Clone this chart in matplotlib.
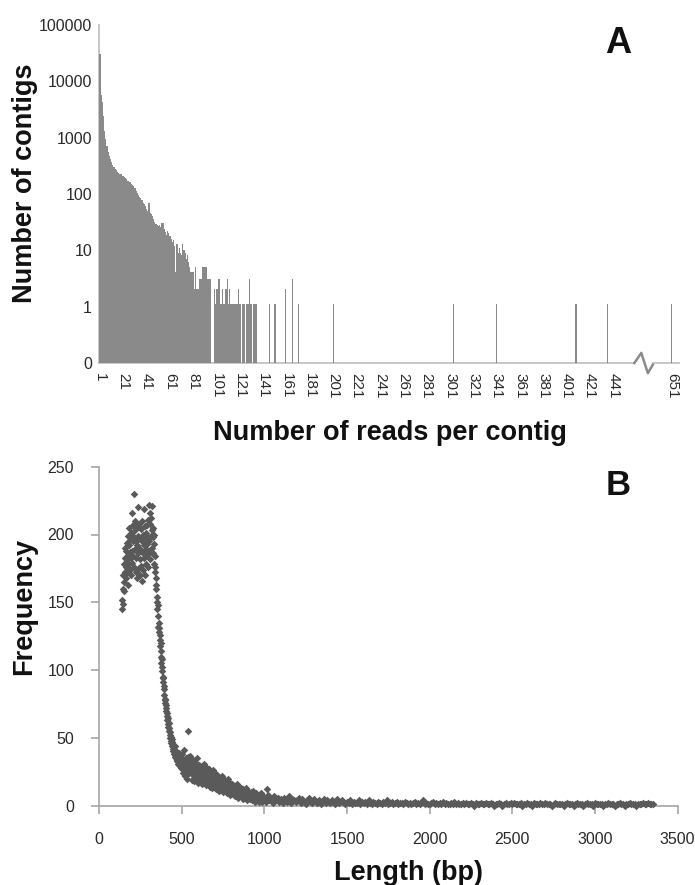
import numpy as np
import matplotlib
matplotlib.use("Agg")
import matplotlib.pyplot as plt
from matplotlib.ticker import FixedLocator, FixedFormatter
import matplotlib.transforms as mtransforms

plt.rcParams['font.family'] = ['Liberation Sans', 'DejaVu Sans']

# ---------------- Panel A data ----------------
reads_main = list(range(1, 136))
contigs_main = [
    30000, 5800, 4300, 2400, 1300, 950, 700, 560, 480, 420,
    370, 330, 300, 280, 265, 250, 240, 230, 222, 212,
    205, 198, 190, 182, 172, 165, 160, 152, 146, 138,
    128, 115, 104, 96, 90, 84, 78, 70, 66, 60,
    53, 50, 68, 46, 44, 40, 36, 32, 29, 28,
    27, 28, 26, 30, 31, 24, 21, 19, 22, 20,
    18, 16, 14, 15, 12, 4, 13, 9, 11, 9,
    8, 13, 10, 9, 7, 8, 6, 5, 4, 4,
    4, 2, 5, 2, 2, 3, 3, 3, 5, 5,
    5, 5, 3, 3, 3, 3, 0, 0, 2, 1,
    2, 2, 3, 1, 1, 2, 1, 1, 2, 3,
    1, 2, 1, 1, 1, 1, 1, 1, 1, 2,
    1, 0, 1, 1, 1, 0, 1, 1, 3, 1,
    1, 0, 1, 1, 1,
]
reads_tail = [146, 151, 160, 166, 171, 201, 304, 341, 409, 436]
contigs_tail = [1, 1, 2, 3, 1, 1, 1, 1, 1, 1]
reads_after_break = [651]
contigs_after_break = [1]
after_break_pos = [491]          # category slot used after the axis break

xtick_labels_a = [str(v) for v in range(1, 442, 20)] + ['651']
ytick_vals_a = [0.1, 1, 10, 100, 1000, 10000, 100000]
ytick_labels_a = ['0', '1', '10', '100', '1000', '10000', '100000']

# ---------------- Panel B data ----------------
peak_len = np.arange(140, 339, 2)
peak_freq = [
    145, 152, 160, 149, 170, 158, 178, 165, 183, 172, 190,
    176, 188, 168, 194, 181, 172, 199, 185, 163, 192, 178, 205, 187, 174, 196, 183, 170, 201, 188, 216,
    179, 195, 207, 184, 230, 198, 176, 203, 189, 210, 172, 195, 183, 206, 168, 192, 220, 186, 199, 175, 208, 190, 182, 197, 170,
    188, 204, 177, 195, 166, 210, 186, 200, 174, 192, 219, 183, 197, 170, 206, 189, 178, 201, 193, 185, 207, 176, 198, 211, 188,
    222, 195, 208, 182, 216, 199, 187, 212, 203, 190, 221, 198, 205, 186, 200, 193, 178, 184, 176,
]
drop_len = np.arange(340, 501, 2)
drop_freq = [
    172, 168, 160, 163, 150, 154, 145, 148, 140, 132, 135,
    128, 131, 122, 126, 118, 120, 110, 114, 105, 108, 99, 102, 95, 91, 94, 86, 88, 82, 79, 76,
    78, 72, 70, 74, 66, 68, 63, 65, 60, 58, 61, 55, 57, 52, 54, 50, 48, 51, 46, 49, 44, 47, 42, 45, 40,
    43, 38, 41, 36, 44, 39, 35, 40, 37, 33, 38, 34, 36, 31, 35, 39, 32, 30, 36, 33, 29, 34, 31, 28, 35,
]
band_len = np.arange(503, 999, 3)
band_freq = [
    38, 24, 33, 28, 41, 22, 30, 35, 26, 31, 20, 36, 27, 33, 24, 29, 37,
    25, 31, 19, 28, 34, 23, 27, 18, 32, 25, 29, 21, 35, 24, 28, 17, 26,
    30, 22, 19, 27, 24, 16, 29, 21, 25, 18, 31, 23, 20, 26, 15, 24, 28,
    19, 23, 16, 27, 21, 14, 25, 18, 22, 13, 20, 26, 17, 21, 15, 24, 19,
    12, 20, 16, 23, 14, 18, 11, 21, 15, 19, 13, 17, 22, 12, 16, 10, 18,
    14, 11, 19, 13, 16, 9, 15, 12, 20, 10, 14, 17, 8, 13, 11, 16, 9,
    12, 15, 8, 11, 14, 7, 13, 10, 16, 9, 12, 6, 11, 14, 8, 10, 13,
    7, 11, 9, 5, 12, 8, 10, 6, 9, 13, 7, 4, 10, 8, 11, 6, 9,
    5, 8, 10, 6, 4, 9, 7, 11, 5, 8, 3, 7, 6, 9, 4, 8, 5,
    7, 3, 6, 8, 4, 6, 9, 5, 3, 7, 4, 6, 5,
]
tail_len = np.arange(1000, 3351, 10)
tail_freq = [
    6, 3, 8, 4, 5, 2, 7, 4, 6, 3,
    5, 2, 6, 4, 3, 7, 2, 5, 4, 3,
    4, 6, 2, 5, 3, 1, 4, 6, 3, 2,
    5, 3, 2, 4, 1, 3, 5, 2, 4, 3,
    2, 4, 3, 1, 5, 2, 3, 4, 2, 1,
    3, 2, 4, 1, 3, 2, 2, 4, 1, 3,
    2, 3, 1, 4, 2, 1, 3, 2, 1, 3,
    2, 1, 3, 2, 4, 1, 2, 3, 1, 2,
    3, 1, 2, 2, 1, 3, 2, 1, 2, 1,
    2, 3, 1, 2, 1, 2, 4, 1, 2, 1,
    1, 2, 3, 1, 2, 1, 2, 1, 3, 1,
    2, 1, 1, 2, 1, 3, 1, 2, 1, 1,
    2, 1, 2, 1, 1, 2, 1, 0, 2, 1,
    1, 2, 1, 1, 2, 1, 1, 2, 1, 0,
    1, 1, 2, 1, 0, 1, 2, 1, 1, 2,
    1, 2, 1, 1, 1, 2, 0, 1, 1, 2,
    1, 1, 0, 2, 1, 1, 1, 2, 1, 1,
    2, 1, 1, 1, 0, 1, 2, 1, 1, 1,
    1, 0, 1, 2, 1, 1, 1, 0, 1, 2,
    1, 1, 1, 0, 1, 2, 1, 1, 1, 0,
    2, 1, 1, 1, 1, 0, 1, 1, 2, 1,
    1, 1, 0, 1, 1, 2, 1, 1, 0, 1,
    1, 2, 1, 1, 1, 0, 1, 1, 1, 2,
    1, 1, 2, 1, 1, 1,
]
outlier_len = [540, 1014]
outlier_freq = [55, 12]

# ---------------- Figure ----------------
W, H = 695, 885
fig = plt.figure(figsize=(W / 100, H / 100), dpi=100)

def px(x0, y0, x1, y1):
    return [x0 / W, 1 - y1 / H, (x1 - x0) / W, (y1 - y0) / H]

bar_color = '#8a8a8a'
axis_color_a = '#bdbdbd'
axis_color_b = '#a6a6a6'
text_color = '#111111'
tick_color = '#2a2a2a'

# ---- Panel A ----
axA = fig.add_axes(px(99, 25, 679, 363))
axA.set_yscale('log')
xs = np.array(reads_main + reads_tail + after_break_pos, dtype=float)
ys = np.array(contigs_main + contigs_tail + contigs_after_break, dtype=float)
mask = ys > 0
axA.bar(xs[mask], ys[mask], width=1.0, bottom=0.1, color=bar_color, linewidth=0,
        zorder=3)
axA.set_xlim(0.2, 497.2)
axA.set_ylim(0.1, 100000)
for s in ['top', 'right', 'bottom']:
    axA.spines[s].set_visible(False)
axA.spines['left'].set_color(axis_color_a)
axA.spines['left'].set_linewidth(1.2)
axA.yaxis.set_major_locator(FixedLocator(ytick_vals_a))
axA.yaxis.set_major_formatter(FixedFormatter(ytick_labels_a))
axA.yaxis.set_minor_locator(FixedLocator([]))
xtick_pos_a = list(range(1, 442, 20)) + after_break_pos
axA.xaxis.set_major_locator(FixedLocator(xtick_pos_a))
axA.xaxis.set_major_formatter(FixedFormatter(xtick_labels_a))
axA.tick_params(axis='y', length=0, pad=5, labelsize=11.5, labelcolor=tick_color)
axA.tick_params(axis='x', length=0, pad=7, labelsize=11, labelcolor=tick_color,
                labelrotation=-90)
for lab in axA.get_xticklabels():
    lab.set_va('top')
    lab.set_ha('center')

# broken x axis line with zigzag
trA = mtransforms.blended_transform_factory(axA.transData, axA.transAxes)
axA.plot([0.2, 459], [0, 0], color=axis_color_a, lw=1.2, transform=trA, clip_on=False)
axA.plot([474.8, 497.2], [0, 0], color=axis_color_a, lw=1.2, transform=trA, clip_on=False)
axA.plot([459, 464.9, 470.5, 474.8], [0, 0.03, -0.03, -0.005], color='#8a8a8a', lw=1.8,
         transform=trA, clip_on=False)

# ---- Panel B ----
axB = fig.add_axes(px(99, 466.7, 677.7, 805.7))
all_len = np.concatenate([peak_len, drop_len, band_len, tail_len, outlier_len])
all_freq = np.concatenate([peak_freq, drop_freq, band_freq, tail_freq, outlier_freq])
axB.scatter(all_len, all_freq, marker='D', s=15, color='#5a5a5a', linewidths=0,
            clip_on=False, zorder=3)
axB.set_xlim(0, 3500)
axB.set_ylim(0, 250)
for s in ['top', 'right']:
    axB.spines[s].set_visible(False)
for s in ['left', 'bottom']:
    axB.spines[s].set_color(axis_color_b)
    axB.spines[s].set_linewidth(1.2)
axB.set_xticks(range(0, 3501, 500))
axB.set_yticks(range(0, 251, 50))
axB.tick_params(axis='both', direction='out', length=6, width=1.2, color=axis_color_b,
                labelsize=11.5, labelcolor=tick_color)
axB.tick_params(axis='y', pad=12)
axB.tick_params(axis='x', pad=13)

# ---- Labels ----
def ftext(x, y, s, **kw):
    fig.text(x / W, 1 - y / H, s, color=text_color, fontweight='bold', **kw)

ftext(25, 183.5, 'Number of contigs', fontsize=19.5, rotation=90, ha='center', va='center')
ftext(390, 440, 'Number of reads per contig', fontsize=19.5, ha='center', va='baseline')
ftext(618, 52.7, 'A', fontsize=26, ha='center', va='baseline')
ftext(24, 606.5, 'Frequency', fontsize=19.5, rotation=90, ha='center', va='center')
ftext(409, 880, 'Length (bp)', fontsize=19.5, ha='center', va='baseline')
ftext(618, 495, 'B', fontsize=25, ha='center', va='baseline')

fig.savefig('out.png', dpi=100, facecolor='white')
